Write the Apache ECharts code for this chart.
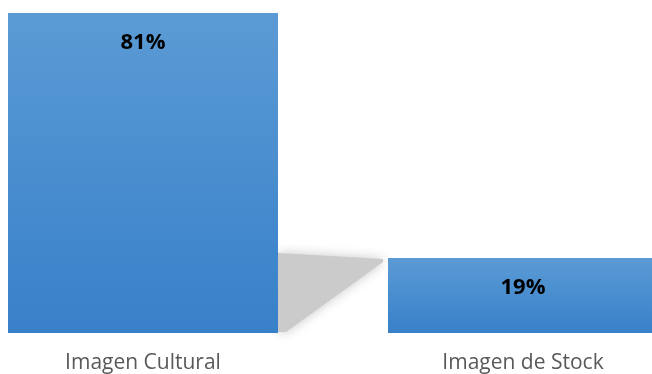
<!DOCTYPE html>
<html>
<head>
<meta charset="utf-8">
<script src="https://cdn.jsdelivr.net/npm/echarts@6/dist/echarts.min.js"></script>
<style>
  html, body { margin: 0; padding: 0; background: #ffffff; }
  #chart { width: 652px; height: 374px; }
</style>
</head>
<body>
<div id="chart"></div>
<script>
// Share of image types
var categories = ['Imagen Cultural', 'Imagen de Stock'];
var shares = [81, 19];

var BAR_WIDTH = 270;

var chart = echarts.init(document.getElementById('chart'), null, { renderer: 'canvas' });

var barGradient = new echarts.graphic.LinearGradient(0, 0, 0, 1, [
  { offset: 0, color: '#5b9bd5' },
  { offset: 1, color: '#3880c9' }
]);

// Soft grey wedge connecting the first bar to the top of the second one
function renderConnector(params, api) {
  var base1 = api.coord([0, 0]);
  var base2 = api.coord([1, 0]);
  var top2 = api.coord([1, shares[1]]);
  var x1 = base1[0] + BAR_WIDTH / 2;
  var x2 = base2[0] - BAR_WIDTH / 2;
  var yb = base1[1];
  var yt = top2[1];
  return {
    type: 'polygon',
    z2: 0,
    shape: {
      points: [
        [x1, yt - 5],
        [x2 - 5, yt + 1],
        [x2 - 5, yt + 4],
        [x1 + 8, yb - 1],
        [x1, yb - 1]
      ]
    },
    style: {
      fill: '#cbcbcb',
      shadowBlur: 12,
      shadowColor: 'rgba(200,200,200,1)'
    }
  };
}

chart.setOption({
  backgroundColor: '#ffffff',
  animation: false,
  grid: {
    left: -47,
    width: 760,
    top: 13,
    bottom: 41,
    containLabel: false,
    outerBoundsMode: 'none'
  },
  xAxis: {
    type: 'category',
    data: categories,
    axisLine: { show: false },
    axisTick: { show: false },
    axisLabel: {
      margin: 20,
      color: '#595959',
      fontFamily: 'Open Sans',
      fontSize: 21,
      lineHeight: 21
    }
  },
  yAxis: {
    type: 'value',
    min: 0,
    max: 'dataMax',
    show: false,
    splitLine: { show: false }
  },
  series: [
    {
      type: 'custom',
      z: 1,
      renderItem: renderConnector,
      data: [0],
      silent: true
    },
    {
      type: 'bar',
      z: 2,
      data: shares,
      barWidth: BAR_WIDTH,
      itemStyle: { color: barGradient },
      label: {
        show: true,
        position: 'insideTop',
        distance: 19,
        formatter: '{c}%',
        color: '#000000',
        fontFamily: 'Open Sans',
        fontWeight: 'bold',
        fontSize: 22,
        lineHeight: 22
      }
    }
  ]
});
</script>
</body>
</html>
